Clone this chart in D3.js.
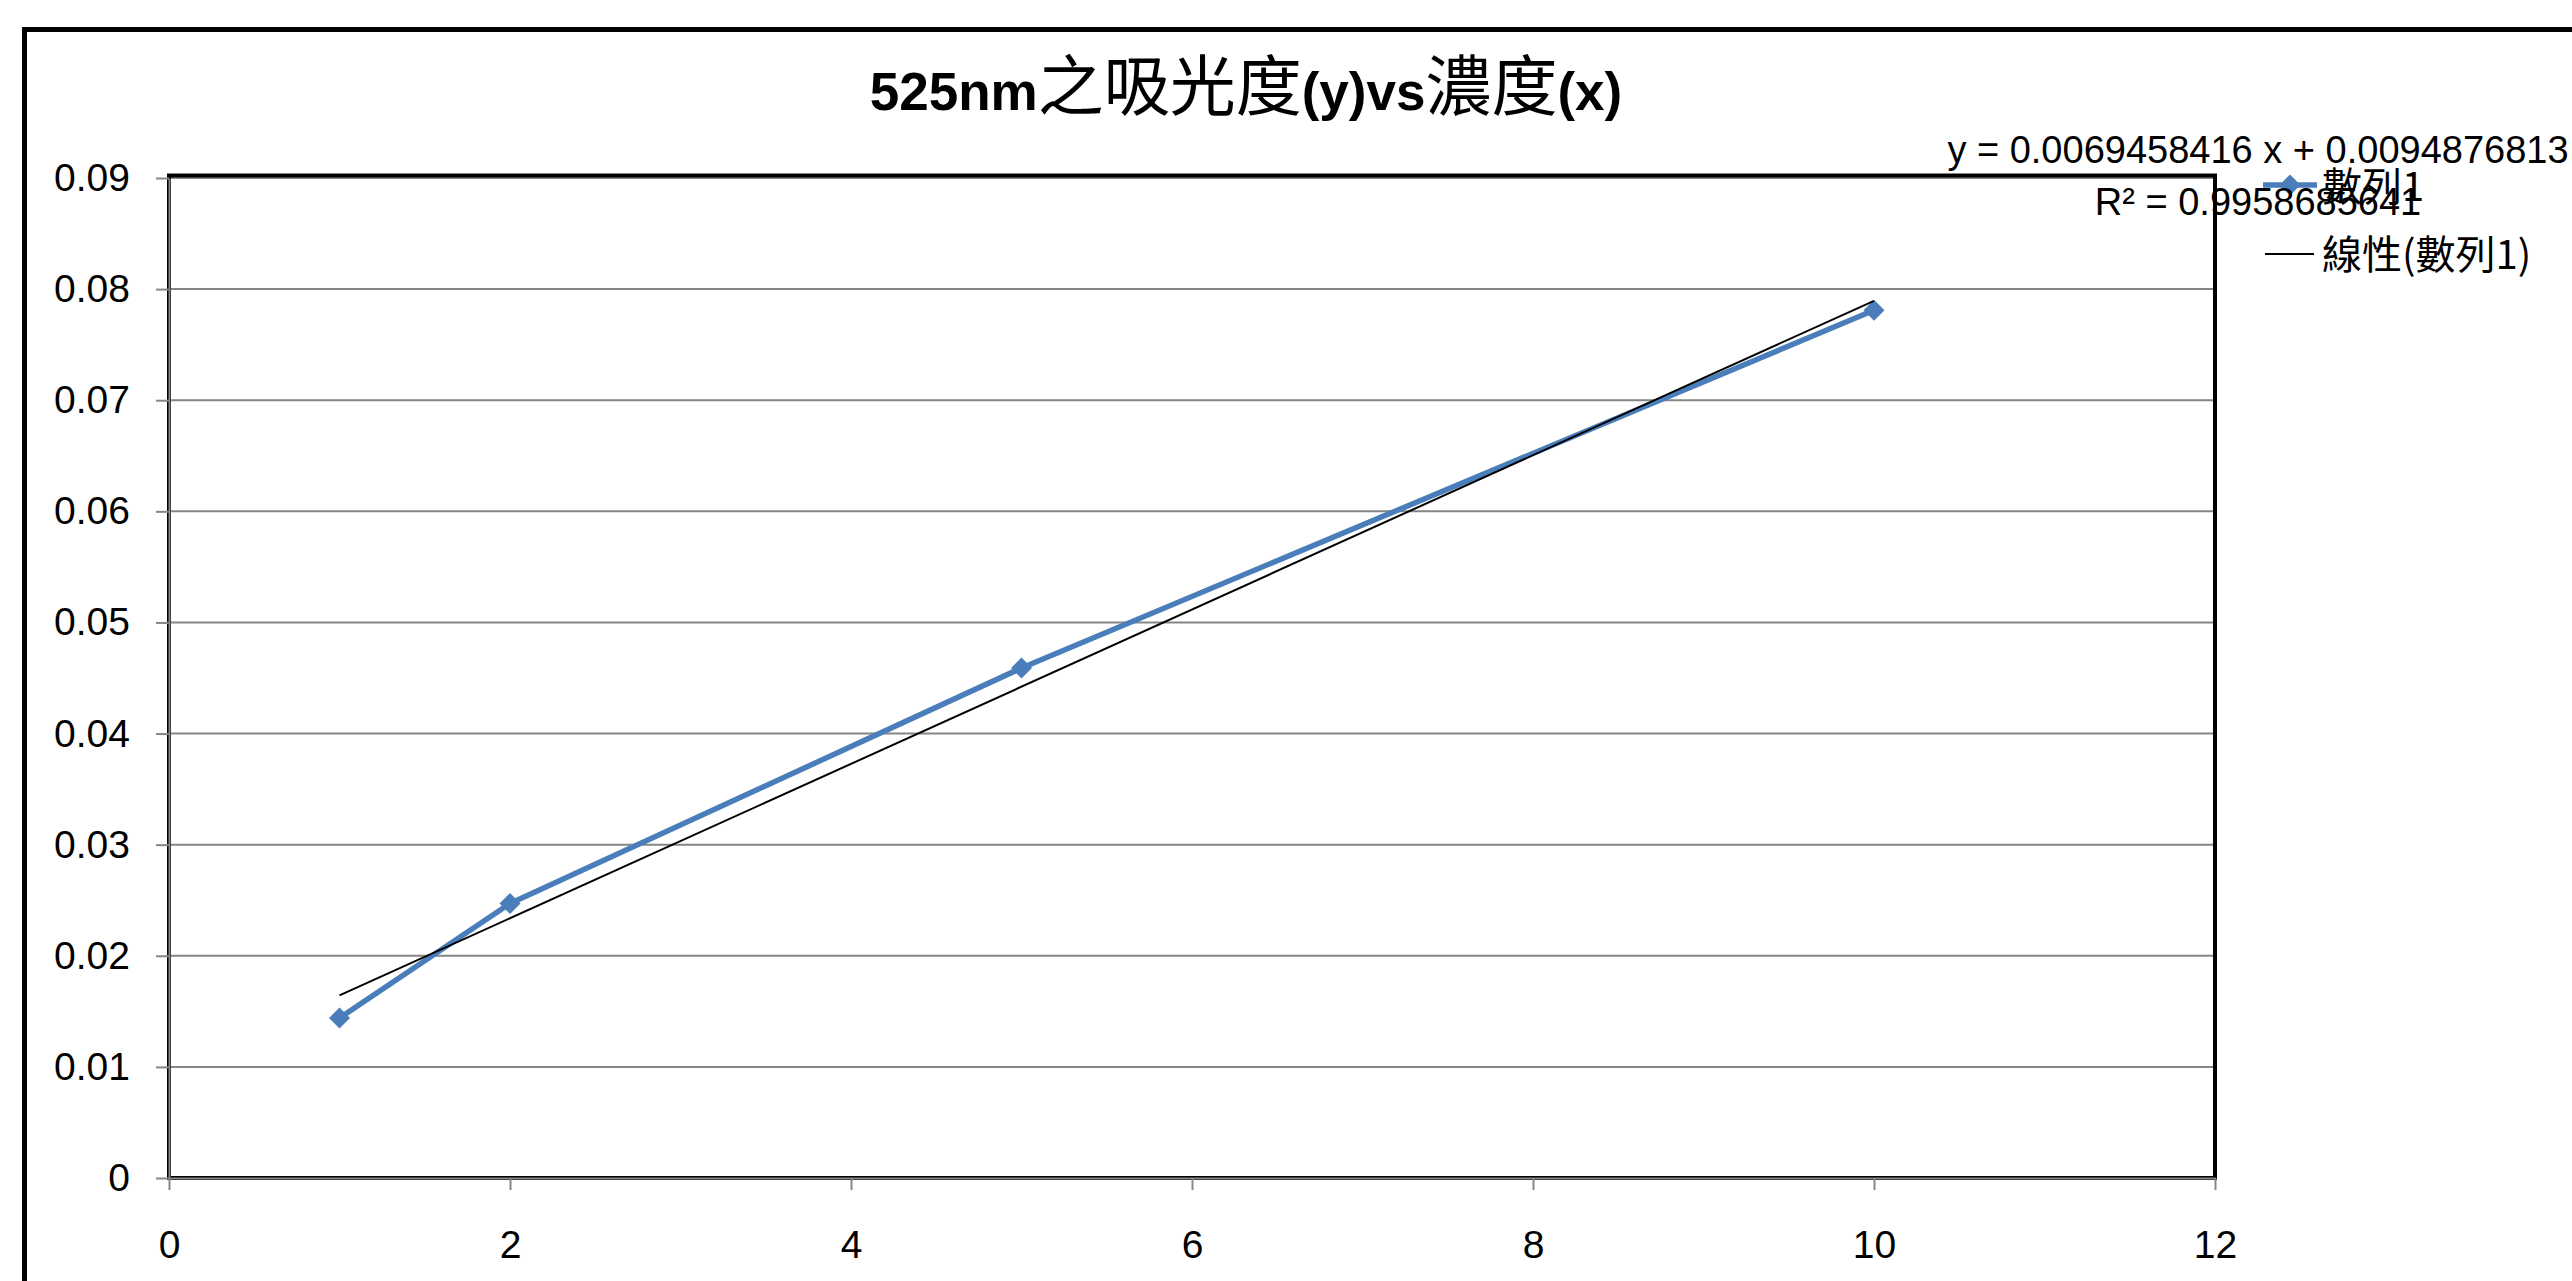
<!DOCTYPE html>
<html>
<head>
<meta charset="utf-8">
<script src="https://cdn.jsdelivr.net/npm/d3@7"></script>
<style>
  body { margin: 0; background: #ffffff; }
  svg { display: block; }
</style>
</head>
<body>
<svg id="chart" width="2572" height="1281"></svg>
<script>
// Absorbance at 525 nm versus concentration
const concentrations = [1, 2, 5, 10];
const absorbance = [0.0144, 0.0247, 0.0459, 0.0781];

const xTickValues = [0, 2, 4, 6, 8, 10, 12];
const xTickLabels = ["0", "2", "4", "6", "8", "10", "12"];
const yTickValues = [0, 0.01, 0.02, 0.03, 0.04, 0.05, 0.06, 0.07, 0.08, 0.09];
const yTickLabels = ["0", "0.01", "0.02", "0.03", "0.04", "0.05", "0.06", "0.07", "0.08", "0.09"];

// Linear trendline reported for the series
const trendSlope = 0.0069458416;
const trendIntercept = 0.0094876813;
const trendSlopeText = "0.0069458416";
const trendInterceptText = "0.0094876813";
const rSquaredText = "0.9958685641";

const seriesName = "數列1";
const trendName = "線性(數列1)";

// Title pieces: [text, isCJK]
const titleParts = [["525nm", false], ["之吸光度", true], ["(y)vs", false], ["濃度", true], ["(x)", false]];

const LATIN = "'Liberation Sans', Arial, sans-serif";
const CJK = "'Noto Sans CJK TC', 'Noto Sans CJK SC', sans-serif";
const BLUE = "#4A7EBB";
const GRID = "#868686";

const svg = d3.select("#chart");

svg.append("rect").attr("x", 0).attr("y", 0).attr("width", 2572).attr("height", 1281).attr("fill", "#ffffff");

// Chart area frame (runs past the right and bottom edges)
svg.append("rect")
  .attr("x", 24.5).attr("y", 29.5)
  .attr("width", 3000).attr("height", 2000)
  .attr("fill", "none").attr("stroke", "#000").attr("stroke-width", 5);

const plot = { left: 169, right: 2215, top: 178, bottom: 1178 };

const x = d3.scaleLinear().domain([0, 12]).range([plot.left, plot.right]);
const y = d3.scaleLinear().domain([0, 0.09]).range([plot.bottom, plot.top]);

// Horizontal gridlines
svg.append("g")
  .selectAll("line")
  .data(yTickValues.filter(v => v > 0))
  .join("line")
  .attr("x1", plot.left).attr("x2", plot.right)
  .attr("y1", d => y(d)).attr("y2", d => y(d))
  .attr("stroke", GRID).attr("stroke-width", 2);

// Plot area border
svg.append("rect")
  .attr("x", plot.left).attr("y", plot.top - 2.5)
  .attr("width", plot.right - plot.left)
  .attr("height", plot.bottom - plot.top + 2.5)
  .attr("fill", "none").attr("stroke", "#000").attr("stroke-width", 4);

// Y axis
const yAxis = svg.append("g")
  .attr("transform", `translate(${plot.left},0)`)
  .call(d3.axisLeft(y)
    .tickValues(yTickValues)
    .tickFormat((d, i) => yTickLabels[i])
    .tickSize(13)
    .tickSizeOuter(0)
    .tickPadding(26));

// X axis
const xAxis = svg.append("g")
  .attr("transform", `translate(0,${plot.bottom})`)
  .call(d3.axisBottom(x)
    .tickValues(xTickValues)
    .tickFormat((d, i) => xTickLabels[i])
    .tickSize(12)
    .tickSizeOuter(0));

[yAxis, xAxis].forEach(g => {
  g.select(".domain").attr("stroke", GRID).attr("stroke-width", 2);
  g.selectAll(".tick line").attr("stroke", GRID).attr("stroke-width", 2);
  g.selectAll(".tick text")
    .attr("font-family", LATIN)
    .attr("font-size", 39)
    .attr("fill", "#000");
});
xAxis.selectAll(".tick text").attr("y", 80).attr("dy", 0);

// Data series line with diamond markers
const line = d3.line()
  .x((d, i) => x(concentrations[i]))
  .y(d => y(d));

svg.append("path")
  .datum(absorbance)
  .attr("d", line)
  .attr("fill", "none")
  .attr("stroke", BLUE)
  .attr("stroke-width", 5.5)
  .attr("stroke-linejoin", "round");

const diamond = d3.symbol().type(d3.symbolSquare).size(220);
svg.append("g")
  .selectAll("path")
  .data(absorbance)
  .join("path")
  .attr("d", diamond)
  .attr("transform", (d, i) => `translate(${x(concentrations[i])},${y(d)}) rotate(45)`)
  .attr("fill", BLUE);

// Linear trendline over the data range
const xMin = d3.min(concentrations), xMax = d3.max(concentrations);
svg.append("line")
  .attr("x1", x(xMin)).attr("y1", y(trendSlope * xMin + trendIntercept))
  .attr("x2", x(xMax)).attr("y2", y(trendSlope * xMax + trendIntercept))
  .attr("stroke", "#000").attr("stroke-width", 2);

// Title
const title = svg.append("text")
  .attr("x", 1246).attr("y", 110)
  .attr("text-anchor", "middle")
  .attr("fill", "#000");
titleParts.forEach(([t, cjk]) => {
  title.append("tspan")
    .text(t)
    .attr("font-family", cjk ? CJK : LATIN)
    .attr("font-size", cjk ? 66 : 53)
    .attr("font-weight", cjk ? 400 : 700);
});

// Legend
const legend = svg.append("g");
legend.append("line")
  .attr("x1", 2263).attr("x2", 2317).attr("y1", 185).attr("y2", 185)
  .attr("stroke", BLUE).attr("stroke-width", 5.5);
legend.append("path")
  .attr("d", diamond)
  .attr("transform", "translate(2290,185) rotate(45)")
  .attr("fill", BLUE);
legend.append("text")
  .attr("x", 2322).attr("y", 184)
  .attr("dominant-baseline", "central")
  .attr("font-family", CJK).attr("font-size", 40)
  .attr("fill", "#000")
  .text(seriesName);
legend.append("line")
  .attr("x1", 2265).attr("x2", 2314).attr("y1", 254).attr("y2", 254)
  .attr("stroke", "#000").attr("stroke-width", 2);
legend.append("text")
  .attr("x", 2322).attr("y", 252)
  .attr("dominant-baseline", "central")
  .attr("font-family", CJK).attr("font-size", 40)
  .attr("fill", "#000")
  .text(trendName);

// Trendline equation and R²
const eq = svg.append("g")
  .attr("font-family", LATIN).attr("font-size", 38)
  .attr("fill", "#000").attr("text-anchor", "middle");
eq.append("text").attr("x", 2258).attr("y", 163)
  .text(`y = ${trendSlopeText} x + ${trendInterceptText}`);
eq.append("text").attr("x", 2258).attr("y", 215)
  .text(`R² = ${rSquaredText}`);
</script>
</body>
</html>
